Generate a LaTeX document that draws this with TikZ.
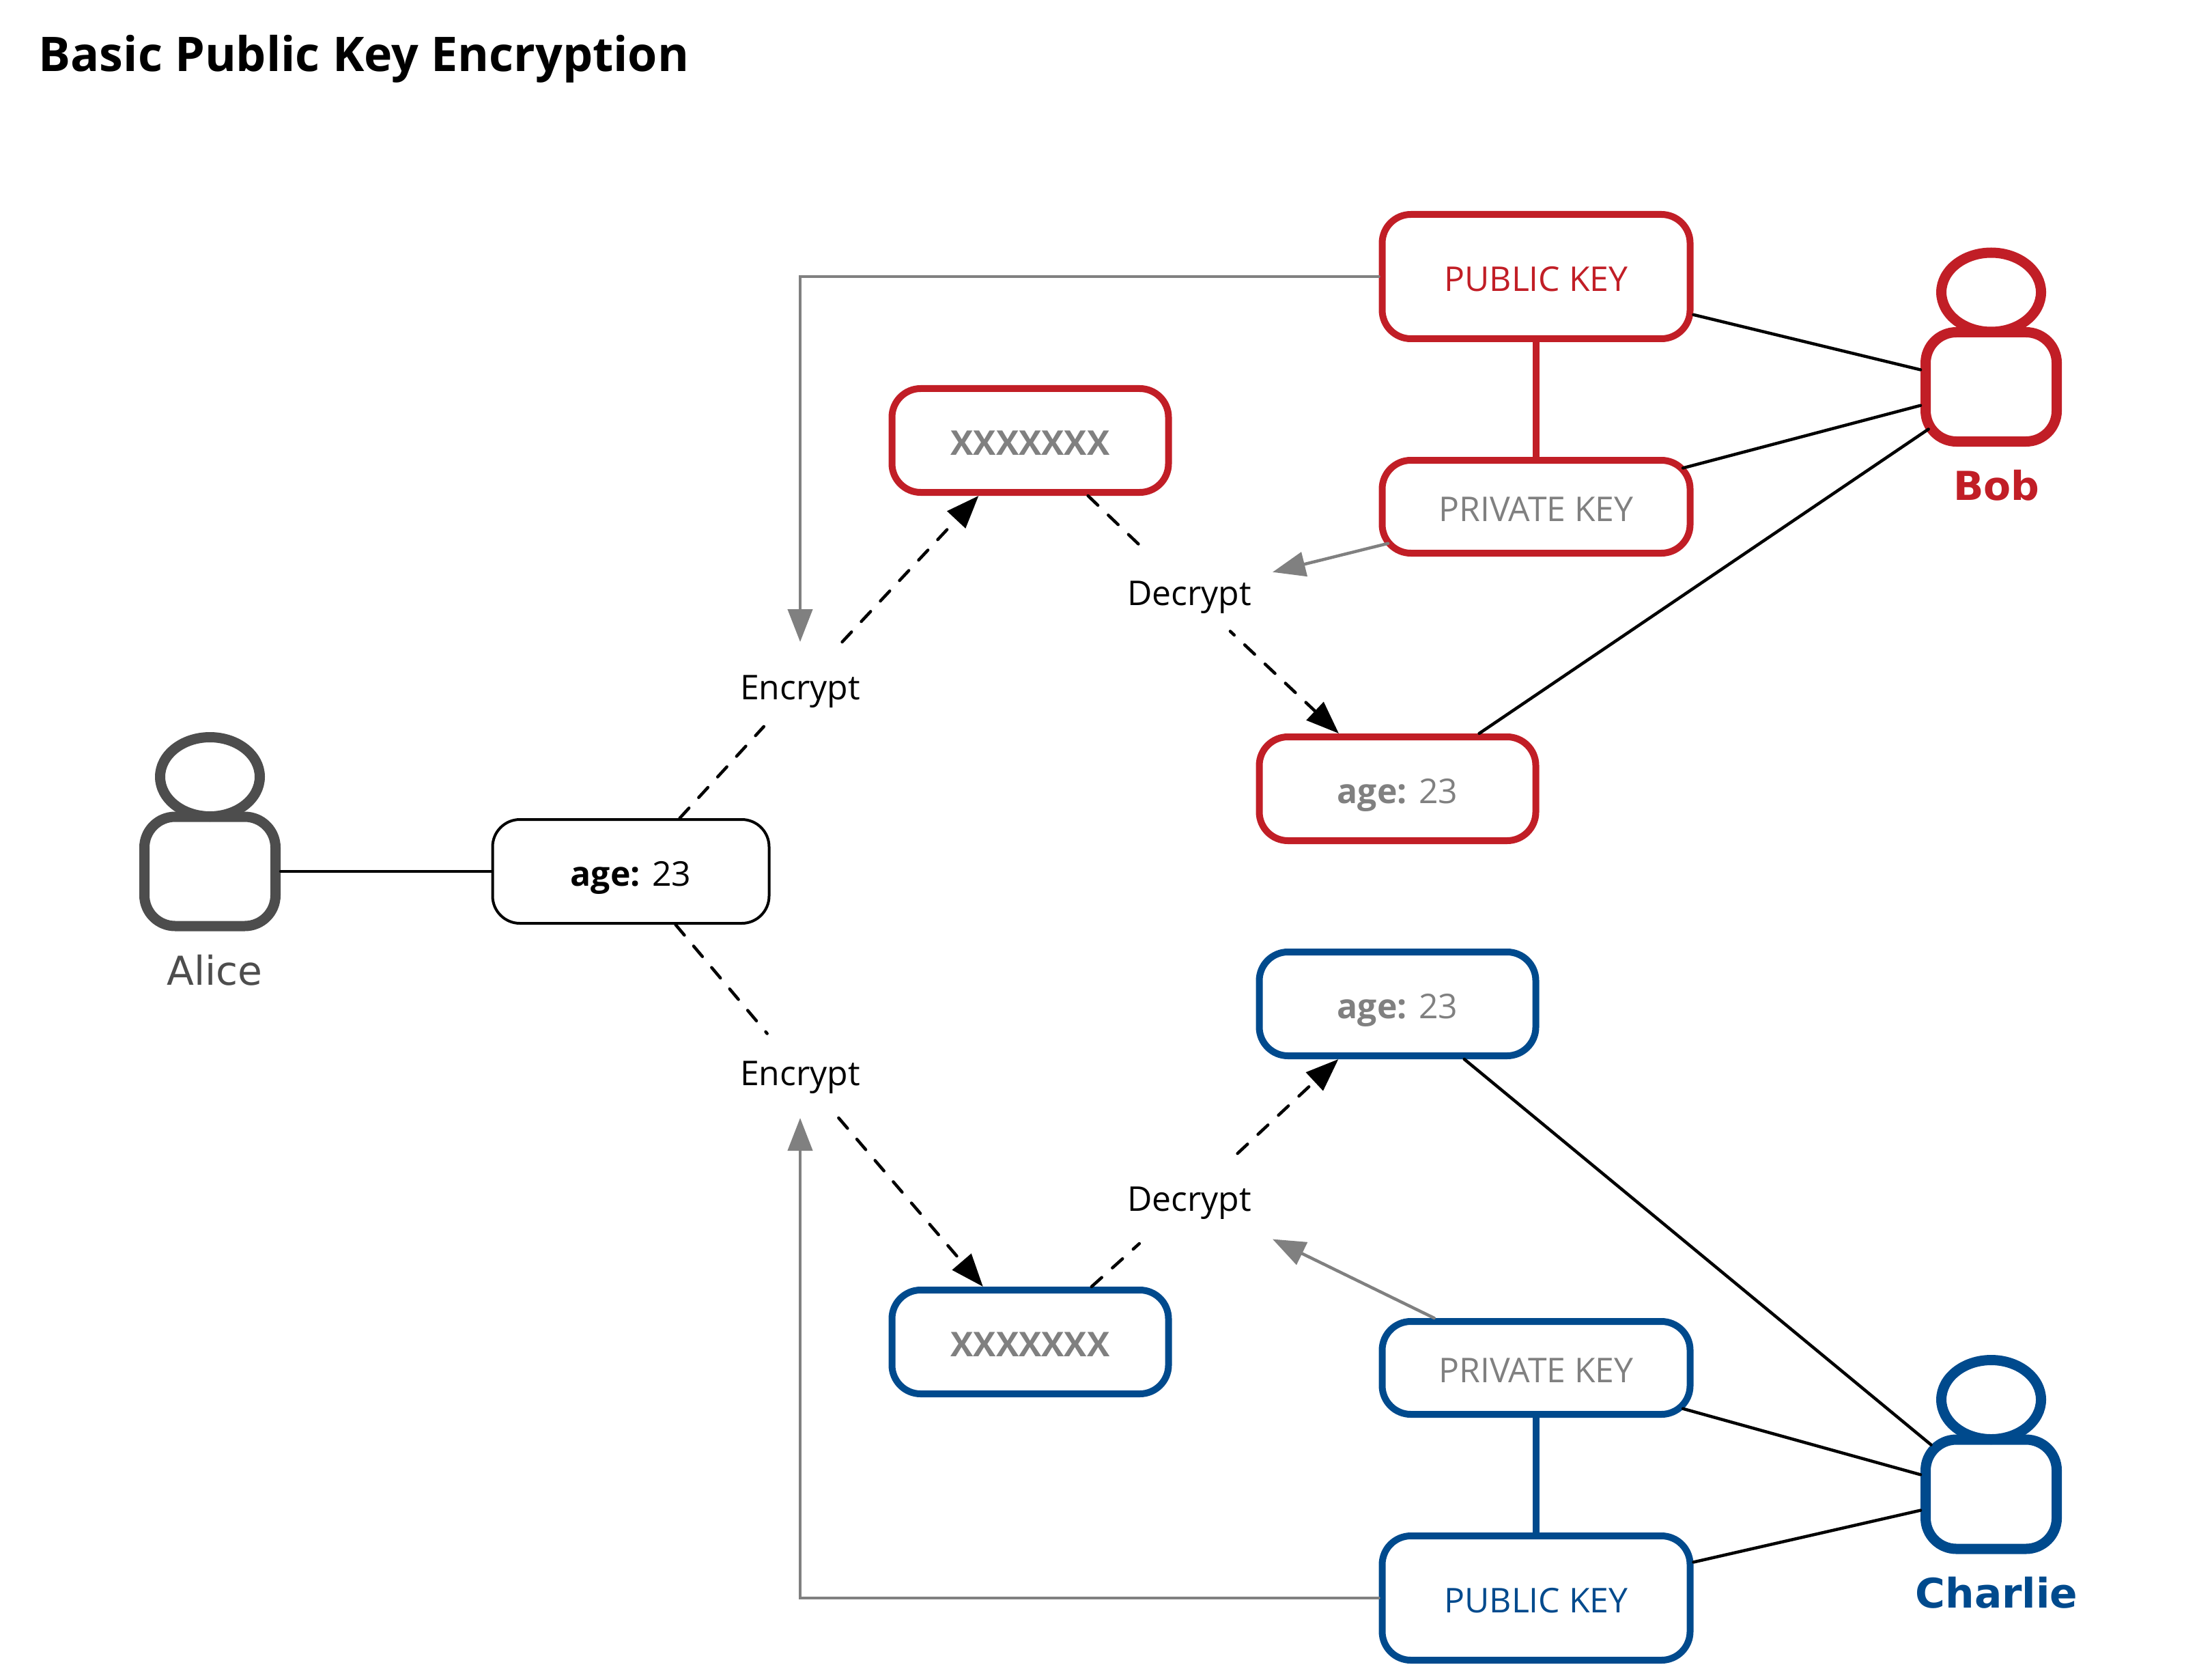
\documentclass[tikz,border=0pt]{standalone}
\usepackage{fontspec}
\setmainfont{Open Sans}
\newfontfamily\namefont{DejaVu Sans}
\usetikzlibrary{positioning,arrows.meta,shapes.geometric}
\definecolor{bobred}{HTML}{C11E26}
\definecolor{charlieblue}{HTML}{004A8D}
\definecolor{alicegray}{HTML}{4D4D4D}
\definecolor{keygray}{HTML}{808080}
\tikzset{
  box/.style={draw=#1, rectangle, rounded corners=.42cm, line width=.1cm, align=center,
    minimum width=4.05cm, minimum height=1.52cm, inner sep=0pt, text height=.43cm, text depth=0pt,
    font=\fontsize{14.2}{17}\selectfont},
  keybox/.style={box=#1, minimum width=4.51cm},
  head/.style={draw=#1, ellipse, line width=.15cm, minimum width=1.46cm, minimum height=1.16cm, inner sep=0pt},
  body/.style={draw=#1, rectangle, rounded corners=.45cm, line width=.15cm,
    minimum width=1.92cm, minimum height=1.6cm, inner sep=0pt},
  who/.style={text=#1, inner sep=0pt, font=\namefont\fontsize{16.6}{19}\selectfont},
  action/.style={minimum width=2.44cm, minimum height=1.32cm, inner sep=0pt, outer sep=0pt,
    text height=.36cm, text depth=0pt, font=\fontsize{14.2}{17}\selectfont},
  wire/.style={line width=.045cm, line cap=round},
  wiregray/.style={wire, draw=keygray, -{Triangle[length=.48cm,width=.36cm]}},
  flow/.style={wire, dash pattern=on .2cm off .21cm},
  flowtip/.style={flow, -{Triangle[length=.48cm,width=.36cm]}}
}
\begin{document}
\begin{tikzpicture}[on grid]
  \useasboundingbox (0,0) rectangle (32.4,-24.4);
  \node[anchor=base west, inner sep=0pt, font=\bfseries\fontsize{19.9}{24}\selectfont] (title) at (.56,-1.05) {Basic Public Key Encryption};

  % sender
  \node[box=black, line width=.04cm, rounded corners=.4cm] (agea) at (9.24,-12.76) {\textbf{age:} 23};
  \node[body=alicegray, left=6.165cm of agea] (alice) {};
  \node[head=alicegray, above=1.385cm of alice] (alicehead) {};
  \node[who=alicegray, below right=1.45cm and .07cm of alice] (alicename) {Alice};
  \node[action, above right=2.7cm and 2.48cm of agea] (encr) {Encrypt};
  \node[action, below right=2.95cm and 2.48cm of agea] (encc) {Encrypt};

  % upper half
  \node[box=bobred, text=keygray, font=\bfseries\fontsize{14.2}{17}\selectfont, above right=3.61cm and 3.37cm of encr] (xr) {XXXXXXX};
  \node[action, below right=2.23cm and 2.33cm of xr] (decr) {Decrypt};
  \node[box=bobred, text=keygray, below right=2.87cm and 3.05cm of decr] (ager) {\textbf{age:} 23};
  \node[keybox=bobred, text=bobred, minimum height=1.82cm, above right=2.4cm and 7.41cm of xr] (pubr) {PUBLIC KEY};
  \node[keybox=bobred, text=keygray, minimum height=1.36cm, below=3.37cm of pubr] (privr) {PRIVATE KEY};
  \node[body=bobred, right=6.665cm of privr, yshift=1.755cm] (bob) {};
  \node[head=bobred, above=1.385cm of bob] (bobhead) {};
  \node[who=bobred, font=\namefont\bfseries\fontsize{16.6}{19}\selectfont, below right=1.44cm and .08cm of bob] (bobname) {Bob};

  % lower half
  \node[box=charlieblue, text=keygray, font=\bfseries\fontsize{14.2}{17}\selectfont, below right=3.94cm and 3.37cm of encc] (xc) {XXXXXXX};
  \node[action, above right=2.1cm and 2.33cm of xc] (decc) {Decrypt};
  \node[box=charlieblue, text=keygray, above right=2.85cm and 3.05cm of decc] (agec) {\textbf{age:} 23};
  \node[keybox=charlieblue, text=keygray, minimum height=1.36cm, below right=.38cm and 7.41cm of xc] (privc) {PRIVATE KEY};
  \node[keybox=charlieblue, text=charlieblue, minimum height=1.82cm, below=3.37cm of privc] (pubc) {PUBLIC KEY};
  \node[body=charlieblue, right=6.665cm of privc, yshift=-1.85cm] (charlie) {};
  \node[head=charlieblue, above=1.385cm of charlie] (charliehead) {};
  \node[who=charlieblue, font=\namefont\bfseries\fontsize{17}{19}\selectfont, below right=1.44cm and .08cm of charlie] (charliename) {Charlie};

  \draw[wire] (alice) -- (agea);
  \draw[flow, shorten >=-.11cm] (agea) -- (encr);
  \draw[flow, shorten >=-.11cm] (agea) -- (encc);
  \draw[flowtip] (encr) -- (xr);
  \draw[flowtip] (encc) -- (xc);
  \draw[flow] (xr) -- (decr);
  \draw[flow] (xc) -- (decc);
  \draw[flowtip, dash phase=.12cm, shorten <=-.14cm] (decr) -- (ager);
  \draw[flowtip] (decc) -- (agec);

  \draw[wiregray] (pubr) -| (encr);
  \draw[wiregray] (pubc) -| (encc);
  \draw[wiregray, shorten <=-.14cm] (privr) -- (decr);
  \draw[wiregray] (privc) -- (decc);

  \draw[draw=bobred, line width=.1cm] (pubr) -- (privr);
  \draw[draw=charlieblue, line width=.1cm] (privc) -- (pubc);

  \draw[wire] (pubr) -- (bob);
  \draw[wire, shorten <=-.16cm] (privr) -- (bob);
  \draw[wire, shorten >=-.14cm] (ager) -- (bob);
  \draw[wire, shorten >=-.2cm] (agec) -- (charlie);
  \draw[wire, shorten <=-.16cm] (privc) -- (charlie);
  \draw[wire] (pubc) -- (charlie);
\end{tikzpicture}
\end{document}
